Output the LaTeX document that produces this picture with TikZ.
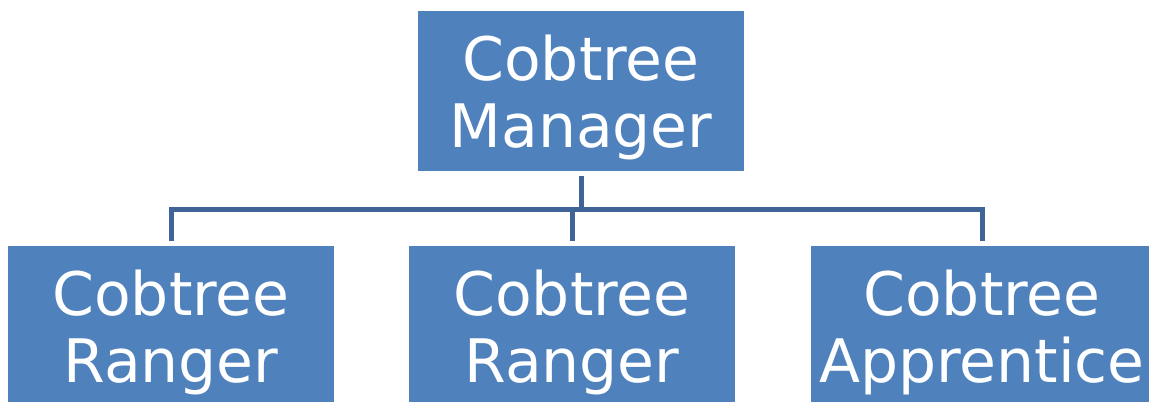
\documentclass[tikz,border=0pt]{standalone}
\usepackage{fontspec}
\setmainfont{DejaVu Sans}
\usetikzlibrary{positioning}

\definecolor{boxblue}{HTML}{4F81BD}
\definecolor{linkblue}{HTML}{3E6498}

\begin{document}
\begin{tikzpicture}[
        x=0.75pt, y=-0.75pt, % Координаты в пикселях, ось y вниз
        cell/.style={rectangle, fill=boxblue, text=white, align=center,
                minimum width=244.5pt, minimum height=120pt, inner sep=0pt, outer sep=4pt,
                text depth=0pt, font=\fontsize{45}{50}\selectfont}, % Стиль блоков
        link/.style={draw=linkblue, line width=3.75pt}, % Стиль соединений
    ]
    \useasboundingbox (0,0) rectangle (1149,401);

    \node[cell] (mgr) at (581,91) {Cobtree\\Manager};
    \node[cell] (rng1) at (171,326) {Cobtree\\Ranger};
    \node[cell] (rng2) at (572,326) {Cobtree\\Ranger};
    \node[cell, minimum width=256.5pt] (app) at (982,326) {Cobtree\\Apprentice};

    \coordinate (bus) at (581,209); % Общая горизонталь

    \draw[link] (mgr.south) -- (bus);
    \draw[link] (rng1.north) |- (bus) -| (app.north);
    \draw[link] (rng2.north) -- (rng2.north |- bus);
\end{tikzpicture}
\end{document}
